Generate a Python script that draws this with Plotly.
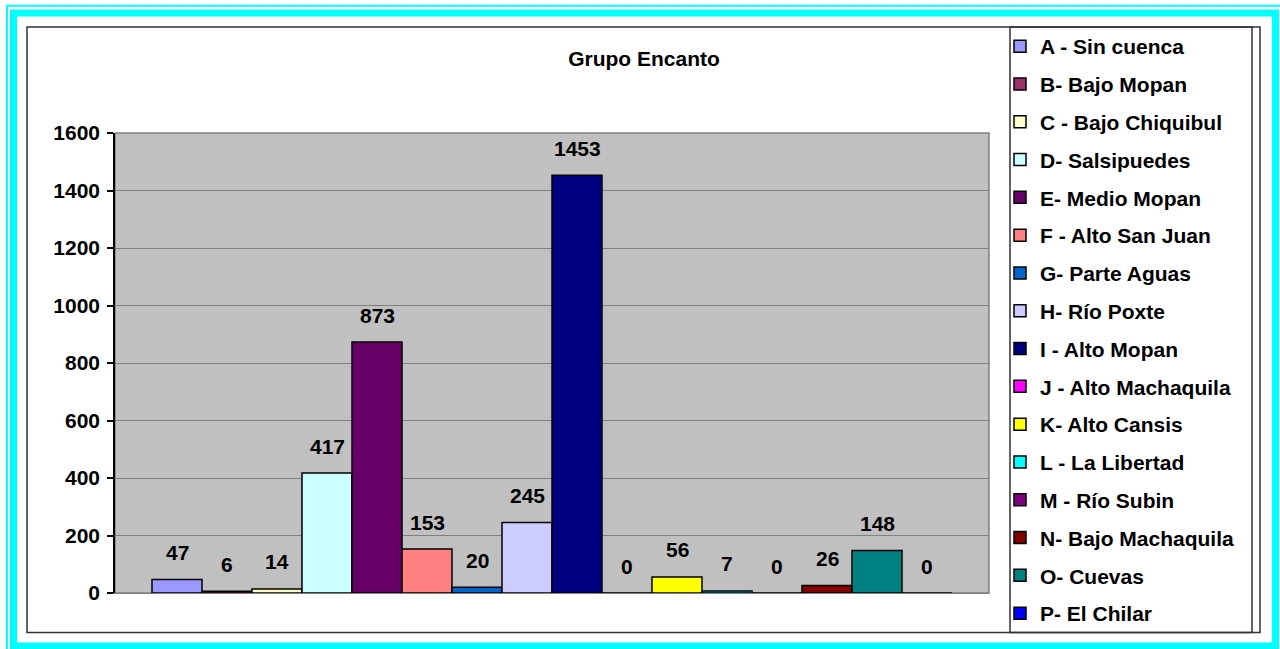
import plotly.graph_objects as go

# Watershed groups and counts for "Grupo Encanto"
cuencas = [
    "A - Sin cuenca", "B- Bajo Mopan", "C - Bajo Chiquibul", "D- Salsipuedes",
    "E- Medio Mopan", "F - Alto San Juan", "G- Parte Aguas", "H- Río Poxte",
    "I - Alto Mopan", "J - Alto Machaquila", "K- Alto Cansis", "L - La Libertad",
    "M - Río Subin", "N- Bajo Machaquila", "O- Cuevas", "P- El Chilar",
]
valores = [47, 6, 14, 417, 873, 153, 20, 245, 1453, 0, 56, 7, 0, 26, 148, 0]
colores = [
    "#9999FF", "#993366", "#FFFFCC", "#CCFFFF", "#660066", "#FF8080",
    "#0066CC", "#CCCCFF", "#000080", "#FF00FF", "#FFFF00", "#00FFFF",
    "#800080", "#800000", "#008080", "#0000FF",
]
y_ticks = [0, 200, 400, 600, 800, 1000, 1200, 1400, 1600]

W, H = 1280, 649
ML, MR, MT, MB = 115, 291, 133, 56
PW, PH = W - ML - MR, H - MT - MB

FONT = "Liberation Sans, Arial, sans-serif"
FS = 21


def px_x(p):
    return (p - ML) / PW


def px_y(p):
    return (H - MB - p) / PH


def bold(size=FS):
    return dict(family=FONT, size=size, color="black", weight="bold")


fig = go.Figure()
for i, (name, val, col) in enumerate(zip(cuencas, valores, colores)):
    fig.add_trace(go.Bar(
        x=[i], y=[val], name=name, width=1,
        marker=dict(color=col, line=dict(color="black", width=1.5)),
        legendgroup=name,
    ))
    fig.add_annotation(
        x=i, y=val, text=str(val), showarrow=False, yshift=27,
        font=bold(),
    )

shapes = [
    # plot area frame
    dict(type="rect", xref="paper", yref="paper", x0=0, y0=0, x1=1, y1=1,
         line=dict(color="#808080", width=1.5), layer="below"),
    # outer chart border
    dict(type="rect", xref="paper", yref="paper",
         x0=px_x(27), x1=px_x(1260), y0=px_y(27), y1=px_y(632.5),
         line=dict(color="#333333", width=1.5)),
    # legend box
    dict(type="rect", xref="paper", yref="paper",
         x0=px_x(1010), x1=px_x(1252), y0=px_y(27), y1=px_y(632.5),
         line=dict(color="#333333", width=1.5)),
    # thick cyan frame
    dict(type="rect", xref="paper", yref="paper",
         x0=px_x(13.5), x1=px_x(1275.5), y0=px_y(13), y1=px_y(646),
         line=dict(color="#00FFFF", width=7)),
    # thin cyan frame
    dict(type="rect", xref="paper", yref="paper",
         x0=px_x(7), x1=px_x(1295), y0=px_y(5.75), y1=px_y(665),
         line=dict(color="#00FFFF", width=2)),
]

fig.update_layout(
    width=W, height=H,
    margin=dict(l=ML, r=MR, t=MT, b=MB, autoexpand=False),
    paper_bgcolor="white",
    plot_bgcolor="#C0C0C0",
    barmode="overlay",
    font=dict(family=FONT, size=FS, color="black"),
    title=dict(
        text="Grupo Encanto", x=644 / W, y=1 - 59 / H,
        xref="container", yref="container", xanchor="center", yanchor="middle",
        font=bold(),
    ),
    xaxis=dict(
        range=[-1.24, 16.24], showticklabels=False, showgrid=False,
        zeroline=False, showline=True, linecolor="#808080", linewidth=1,
        ticks="",
    ),
    yaxis=dict(
        range=[0, 1600], tickvals=y_ticks, showgrid=True,
        gridcolor="#808080", gridwidth=1, zeroline=False,
        showline=True, linecolor="black", linewidth=1.5,
        ticks="outside", ticklen=6, tickcolor="black", tickwidth=1.5,
        ticklabelstandoff=3,
        tickfont=bold(),
    ),
    legend=dict(
        x=px_x(1000), xanchor="left",
        yref="container", y=1 - 26 / H, yanchor="top",
        maxheight=645,
        bgcolor="rgba(0,0,0,0)", borderwidth=0,
        traceorder="grouped", tracegroupgap=7.5,
        font=bold(),
    ),
    shapes=shapes,
)

fig.write_html("out.html")
